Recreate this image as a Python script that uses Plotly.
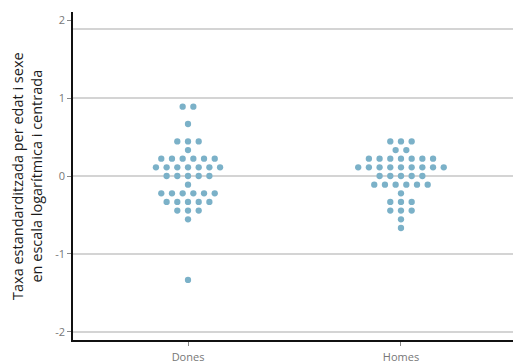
import plotly.graph_objects as go

# Binned dot plot (centre-stacked) of standardised rates, log scale, centred
groups = ["Dones", "Homes"]

# bin centres (y) and number of dots in each bin
dones_bins = [0.889, 0.667, 0.444, 0.333, 0.222, 0.111, 0.0, -0.111, -0.222, -0.333, -0.444, -0.556, -1.333]
dones_counts = [2, 1, 3, 1, 6, 7, 5, 1, 6, 5, 3, 1, 1]

homes_bins = [0.444, 0.333, 0.222, 0.111, 0.0, -0.111, -0.222, -0.333, -0.444, -0.556, -0.667]
homes_counts = [3, 2, 7, 9, 5, 6, 1, 3, 3, 1, 1]

y_ticks = [-2, -1, 0, 1, 2]
y_ticktext = ["-2", "-1", "0", "1", "2"]
y_title = "Taxa estandarditzada per edat i sexe<br>en escala logarítmica i centrada"

DOT_STEP = 0.0502  # horizontal spacing between stacked dots (x units)
DOT_COLOR = "#7bb1c8"


def stack(center, bins, counts):
    xs, ys = [], []
    for b, n in zip(bins, counts):
        for i in range(n):
            xs.append(center + (i - (n - 1) / 2) * DOT_STEP)
            ys.append(b)
    return xs, ys


fig = go.Figure()
for gi, (bins, counts) in enumerate([(dones_bins, dones_counts), (homes_bins, homes_counts)]):
    xs, ys = stack(gi, bins, counts)
    fig.add_trace(go.Scatter(
        x=xs, y=ys, mode="markers",
        marker=dict(size=6.3, color=DOT_COLOR, line=dict(width=0)),
        showlegend=False, hoverinfo="y",
    ))

# horizontal grid lines
grid_levels = [-2, -1, 0, 1, 1.885]
for g in grid_levels:
    fig.add_shape(type="line", xref="paper", x0=0, x1=1, yref="y", y0=g, y1=g,
                  line=dict(color="#c6c6c6", width=1.4), layer="below")

fig.add_annotation(
    text=y_title, xref="paper", yref="paper", x=0, y=0.5,
    xshift=-46, xanchor="center", yanchor="middle", textangle=-90,
    showarrow=False, font=dict(family="Open Sans", size=14.5, color="#1a1a1a"),
)

fig.update_layout(
    width=513, height=364,
    margin=dict(l=73, r=0, t=12, b=24),
    paper_bgcolor="white", plot_bgcolor="white",
    font=dict(family="Open Sans", color="#777777", size=11),
    xaxis=dict(
        range=[-0.54, 1.526], tickmode="array", tickvals=[0, 1], ticktext=groups,
        showgrid=False, zeroline=False, showline=True, linecolor="#111111", linewidth=1.5,
        ticks="outside", ticklen=4, tickcolor="#888888", tickwidth=1,
        tickfont=dict(size=11, color="#777777"), ticklabelstandoff=2,
    ),
    yaxis=dict(
        range=[-2.103, 2.103], tickmode="array", tickvals=y_ticks, ticktext=y_ticktext,
        showgrid=False, zeroline=False, showline=True, linecolor="#111111", linewidth=1.5,
        ticks="outside", ticklen=4, tickcolor="#888888", tickwidth=1,
        tickfont=dict(size=11, color="#777777"),
    ),
)

fig.write_html("out.html")
